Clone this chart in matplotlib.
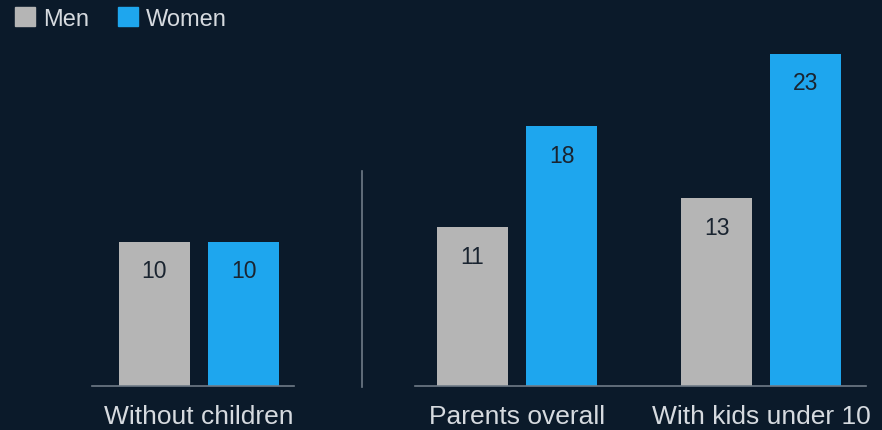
import matplotlib
matplotlib.use('Agg')
import matplotlib.pyplot as plt
from matplotlib.lines import Line2D
from matplotlib.patches import Patch
import numpy as np

plt.rcParams['font.family'] = ['Liberation Sans', 'DejaVu Sans']

# data
left_groups = ['Without children']
left_men = [10]
left_women = [10]
right_groups = ['Parents overall', 'With kids under 10']
right_men = [11, 13]
right_women = [18, 23]
series = ['Men', 'Women']

BG = '#0b1a2a'
MEN_C = '#b5b5b5'
WOMEN_C = '#1ea6ee'
AXIS_C = '#6f7b87'
TXT_C = '#d6dadf'
VAL_C = '#1a2430'

W, H = 882, 431
fig = plt.figure(figsize=(W / 100, H / 100), dpi=100, facecolor=BG)

base = 387
top = base - 25 * 14.43


def make_ax(x0, x1):
    return fig.add_axes([x0 / W, (H - base) / H, (x1 - x0) / W, (base - top) / H],
                        facecolor=BG)


def draw(ax, pos, men, women, groups, xlim):
    bm = ax.bar(pos - 0.5, men, width=0.8, color=MEN_C)
    bw = ax.bar(pos + 0.5, women, width=0.8, color=WOMEN_C)
    for bars in (bm, bw):
        for b in bars:
            ax.text(b.get_x() + b.get_width() / 2, b.get_height() - 2.0,
                    f'{b.get_height():g}', ha='center', va='center',
                    fontsize=16.5, color=VAL_C)
    ax.set_xlim(*xlim)
    ax.set_ylim(0, 25)
    ax.set_xticks(pos)
    ax.set_xticklabels(groups, fontsize=19, color=TXT_C)
    ax.tick_params(axis='x', length=0, pad=13)
    ax.set_yticks([])
    for s in ('top', 'left', 'right'):
        ax.spines[s].set_visible(False)
    ax.spines['bottom'].set_color(AXIS_C)
    ax.spines['bottom'].set_linewidth(1.2)


ax1 = make_ax(92, 294)
draw(ax1, np.array([0.0]), left_men, left_women, left_groups, (-1.202, 1.067))

ax2 = make_ax(415, 866)
draw(ax2, np.array([0.0, 2.742]), right_men, right_women, right_groups, (-1.146, 3.921))

# divider between the two panels
fig.add_artist(Line2D([362 / W, 362 / W], [(H - 172) / H, (H - 388) / H],
                      color=AXIS_C, lw=1.2))

handles = [Patch(color=MEN_C), Patch(color=WOMEN_C)]
leg = fig.legend(handles, series, loc='upper left', bbox_to_anchor=(-0.007, 1.03),
                 ncol=2, frameon=False, fontsize=17, handlelength=0.85,
                 handleheight=0.85, handletextpad=0.35, columnspacing=1.2)
for t in leg.get_texts():
    t.set_color(TXT_C)

fig.savefig('out.png', dpi=100, facecolor=BG)
